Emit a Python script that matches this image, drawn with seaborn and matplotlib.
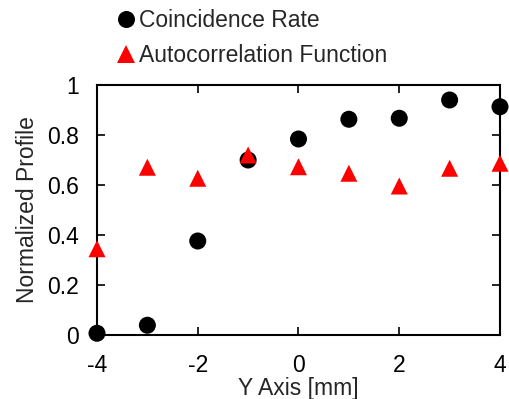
import matplotlib
matplotlib.use("Agg")
import matplotlib.pyplot as plt
import seaborn as sns
import pandas as pd

y_axis = [-4, -3, -2, -1, 0, 1, 2, 3, 4]
coincidence = [0.007, 0.039, 0.376, 0.70, 0.784, 0.863, 0.867, 0.94, 0.913]
autocorr = [0.345, 0.671, 0.627, 0.72, 0.673, 0.647, 0.596, 0.667, 0.687]
series_names = ["Coincidence Rate", "Autocorrelation Function"]

df = pd.DataFrame({
    "x": y_axis * 2,
    "y": coincidence + autocorr,
    "series": [series_names[0]] * len(y_axis) + [series_names[1]] * len(y_axis),
})

sns.set_style("white")
plt.rcParams["font.family"] = ["Liberation Sans", "DejaVu Sans"]

FS = 16.5
fig = plt.figure(figsize=(5.10, 3.99), dpi=100)
ax = fig.add_axes([97 / 510, 1 - 335 / 399, 403 / 510, 250 / 399])

sns.scatterplot(data=df, x="x", y="y", hue="series", style="series",
                palette={series_names[0]: "black", series_names[1]: "#ff0000"},
                markers={series_names[0]: "o", series_names[1]: "^"},
                s=150, linewidth=0, ax=ax, clip_on=False, zorder=3)

ax.set_xlim(-4, 4)
ax.set_ylim(0, 1)
ax.set_xticks([-4, -2, 0, 2, 4])
ax.set_yticks([0, 0.2, 0.4, 0.6, 0.8, 1.0])
ax.set_xticklabels(["-4", "-2", "0", "2", "4"])
ax.set_yticklabels(["0", "0.2", "0.4", "0.6", "0.8", "1"])
ax.tick_params(direction="in", length=6, width=1.2, labelsize=FS, colors="black",
               top=True, right=True, bottom=True, left=True)
ax.tick_params(axis="y", pad=13)
ax.tick_params(axis="x", pad=14)
for sp in ax.spines.values():
    sp.set_color("black")
    sp.set_linewidth(1.5)
ax.set_xlabel("Y Axis [mm]", fontsize=FS, labelpad=0)
ax.set_ylabel("Normalized Profile", fontsize=FS, labelpad=6)

leg = ax.legend(loc="upper left", bbox_to_anchor=(92 / 510, 1.005),
                bbox_transform=fig.transFigure, frameon=False, fontsize=FS,
                handletextpad=-0.45, labelspacing=0.5, borderaxespad=0.1,
                markerscale=1.0, handlelength=2.0)
fig.savefig("out.png", dpi=100)
